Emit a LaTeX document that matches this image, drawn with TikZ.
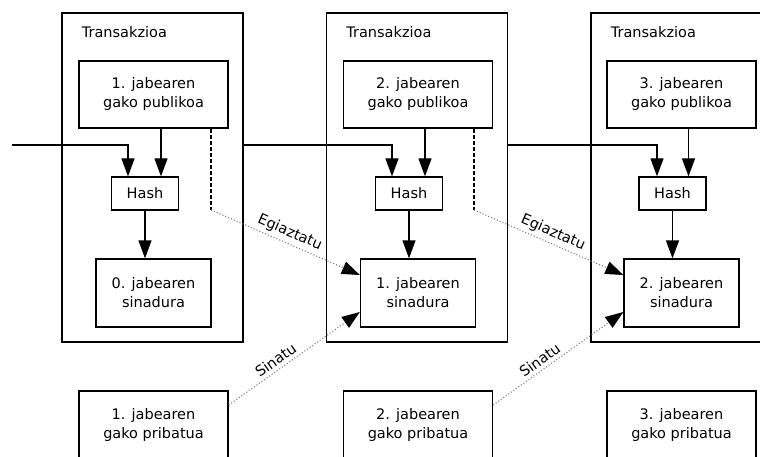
\documentclass[tikz,border=0pt]{standalone}
\usepackage{fontspec}
\setmainfont{DejaVu Sans}
\usepackage{tikz}
\usetikzlibrary{arrows.meta}
\tikzstyle{box} = [draw, line width=1.3pt, align=center, inner sep=0pt]
\tikzstyle{txbox} = [box, minimum width=181pt, minimum height=329pt]
\tikzstyle{keybox} = [box, minimum width=149pt, minimum height=67pt]
\tikzstyle{hashbox} = [box, minimum width=67pt, minimum height=33pt]
\tikzstyle{sigbox} = [box, minimum width=115pt, minimum height=68pt]
\tikzstyle{arr} = [line width=1.3pt, -{Triangle[width=13pt,length=18pt]}]
\tikzstyle{verify} = [gray, dotted, line width=1.1pt, -{Triangle[width=13pt,length=18pt,color=black]}]

\begin{document}
\begin{tikzpicture}[x=1pt,y=1pt,font=\fontsize{14.5}{19}\selectfont]
\useasboundingbox (0,0) rectangle (760,456);
% transactions
\node[txbox] (tx1) at (152.5,278.5) {};
\node[txbox] (tx2) at (417,278.5) {};
\node[txbox] (tx3) at (681.5,278.5) {};
\node[anchor=west] (lbl1) at ([xshift=17pt,yshift=-20pt]tx1.north west) {Transakzioa};
\node[anchor=west] (lbl2) at ([xshift=17pt,yshift=-20pt]tx2.north west) {Transakzioa};
\node[anchor=west] (lbl3) at ([xshift=17pt,yshift=-20pt]tx3.north west) {Transakzioa};
% public keys
\node[keybox] (pub1) at (153.5,361.5) {1. jabearen\\gako publikoa};
\node[keybox] (pub2) at (418,361.5) {2. jabearen\\gako publikoa};
\node[keybox] (pub3) at (681.5,361.5) {3. jabearen\\gako publikoa};
% hashes
\node[hashbox] (hash1) at (145,262.5) {Hash};
\node[hashbox] (hash2) at (409,262.5) {Hash};
\node[hashbox] (hash3) at (672.5,262.5) {Hash};
% signatures
\node[sigbox] (sig1) at (153.5,163) {0. jabearen\\sinadura};
\node[sigbox] (sig2) at (418,163) {1. jabearen\\sinadura};
\node[sigbox] (sig3) at (681.5,163) {2. jabearen\\sinadura};
% private keys
\node[keybox] (priv1) at (153.5,31.5) {1. jabearen\\gako pribatua};
\node[keybox] (priv2) at (418,31.5) {2. jabearen\\gako pribatua};
\node[keybox] (priv3) at (681.5,31.5) {3. jabearen\\gako pribatua};

\coordinate (in1) at (12,311);
\draw[arr] (in1) -| ([xshift=-17pt]hash1.north);
\draw[arr] (tx1.east |- in1) -| ([xshift=-17pt]hash2.north);
\draw[arr] (tx2.east |- in1) -| ([xshift=-15.5pt]hash3.north);
\foreach \i in {1,2,3}{
  \draw[arr] ([xshift=16pt]hash\i.north |- pub\i.south) -- ([xshift=16pt]hash\i.north);
  \draw[arr] (hash\i.south) -- (hash\i.south |- sig\i.north);
}

% verify and sign
\coordinate (v1) at (211,246);
\coordinate (v2) at (474,246);
\draw[dash pattern=on 4pt off 2pt, line width=1.1pt] (pub1.south -| v1) -- (v1);
\draw[dash pattern=on 4pt off 2pt, line width=1.1pt] (pub2.south -| v2) -- (v2);
\draw[verify] (v1) -- node[midway, above, sloped, black] {Egiaztatu} ([yshift=18pt]sig2.west);
\draw[verify] (v2) -- node[midway, above, sloped, black] {Egiaztatu} ([yshift=18pt]sig3.west);
\draw[verify] ([yshift=19.5pt]priv1.east) -- node[pos=.4, above, sloped, black] {Sinatu} ([yshift=-19pt]sig2.west);
\draw[verify] ([yshift=19.5pt]priv2.east) -- node[pos=.4, above, sloped, black] {Sinatu} ([yshift=-19pt]sig3.west);
\end{tikzpicture}
\end{document}
